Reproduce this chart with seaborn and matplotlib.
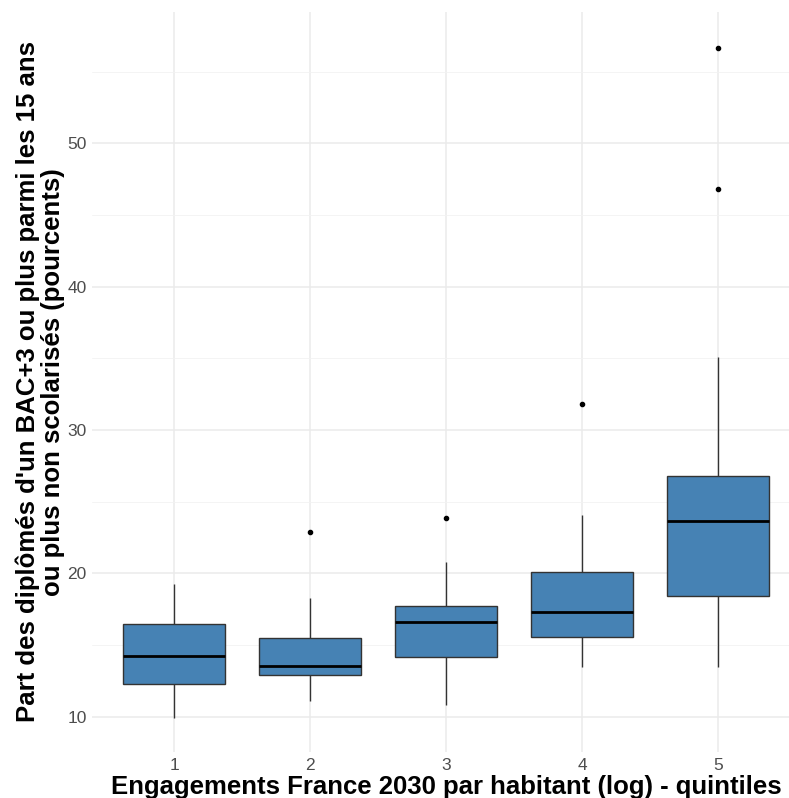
import pandas as pd
import numpy as np
import matplotlib
matplotlib.use("Agg")
import matplotlib.pyplot as plt
import seaborn as sns

# values (per quintile; quartiles, whiskers and outliers match the boxes)
quintiles = ["1", "2", "3", "4", "5"]
q1_vals = [9.91, 11.2, 12.32, 13.5, 14.27, 15.3, 16.48, 17.9, 19.27]
q2_vals = [11.14, 12.4, 12.9, 13.2, 13.58, 14.6, 15.48, 18.27, 22.91]
q3_vals = [10.84, 13.1, 14.2, 15.5, 16.6, 17.2, 17.74, 20.78, 23.87]
q4_vals = [13.46, 14.8, 15.6, 16.4, 17.30, 18.6, 20.10, 24.08, 31.81]
q5_vals = [13.46, 15.9, 17.2, 18.43, 20.1, 22.0, 23.64, 24.9, 25.8, 26.82, 35.09, 46.79, 56.67]

x_title = "Engagements France 2030 par habitant (log) - quintiles"
y_title = "Part des diplômés d'un BAC+3 ou plus parmi les 15 ans\nou plus non scolarisés (pourcents)"

rows = []
for q, vals in zip(quintiles, [q1_vals, q2_vals, q3_vals, q4_vals, q5_vals]):
    for v in vals:
        rows.append({"quintile": q, "part": v})
df = pd.DataFrame(rows)

sns.set_style("white")
plt.rcParams['font.family'] = ['Liberation Sans', 'DejaVu Sans']

fig = plt.figure(figsize=(7.89, 7.98), dpi=100)
# panel placed like the (cropped) original: it runs a bit past the right edge
ax = fig.add_axes([92.4 / 789, 46 / 798, 707.2 / 789, 740 / 798])

sns.boxplot(data=df, x="quintile", y="part", order=quintiles, ax=ax,
            color="#4682B4", saturation=1, width=0.75, linecolor="#333333",
            linewidth=1.0, showcaps=False,
            medianprops=dict(color="black", linewidth=2),
            flierprops=dict(marker="o", markersize=3, markerfacecolor="black",
                            markeredgecolor="black"))

ax.set_xlim(-0.6, 4.6)
ax.set_ylim(7.55, 59.15)
ax.set_yticks([10, 20, 30, 40, 50])
ax.set_yticks([15, 25, 35, 45, 55], minor=True)

ax.set_axisbelow(True)
ax.grid(True, which="major", color="#EBEBEB", linewidth=1.1)
ax.grid(True, which="minor", axis="y", color="#F2F2F2", linewidth=0.6)
for s in ax.spines.values():
    s.set_visible(False)

ax.tick_params(axis="both", which="both", length=0, labelsize=12.5, labelcolor="#4d4d4d")
ax.tick_params(axis="y", pad=4)
ax.tick_params(axis="x", pad=4)

ax.set_xlabel(x_title, fontsize=18.5, fontweight="bold", color="black")
ax.set_ylabel(y_title, fontsize=18.5, fontweight="bold", color="black", linespacing=1.05)
ax.xaxis.set_label_coords(0.5, -0.031)
ax.yaxis.set_label_coords(-27 / 707.2, 0.5)

fig.savefig("out.png", dpi=100)
